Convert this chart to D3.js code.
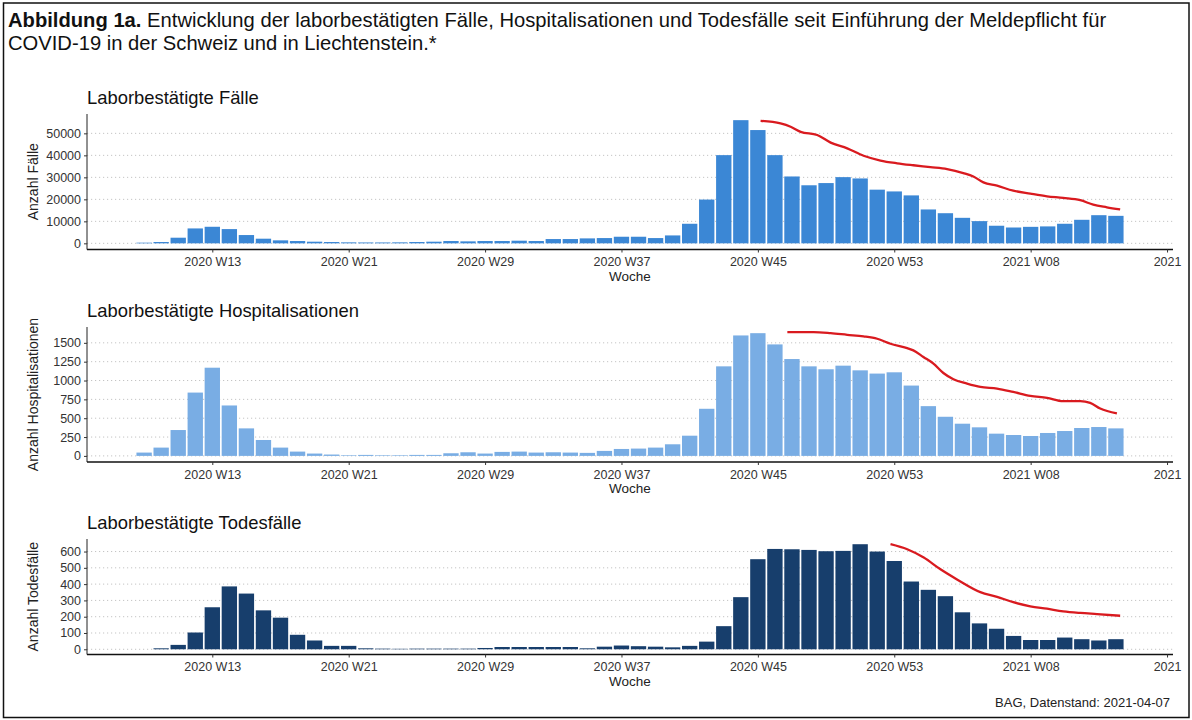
<!DOCTYPE html>
<html>
<head>
<meta charset="utf-8">
<script src="https://cdn.jsdelivr.net/npm/d3@7"></script>
<style>
  html, body { margin: 0; padding: 0; background: #fff; }
  svg { display: block; font-family: "Liberation Sans", Arial, sans-serif; }
</style>
</head>
<body>
<svg id="chart" width="1192" height="720"></svg>
<script>
// ---------- DATA ----------
// Week index: 2020 W09 = 9 ... 2020 W53 = 53, 2021 W01 = 54 ... 2021 W13 = 66
const weeks = [
  "2020 W09","2020 W10","2020 W11","2020 W12","2020 W13","2020 W14","2020 W15","2020 W16","2020 W17","2020 W18",
  "2020 W19","2020 W20","2020 W21","2020 W22","2020 W23","2020 W24","2020 W25","2020 W26","2020 W27","2020 W28",
  "2020 W29","2020 W30","2020 W31","2020 W32","2020 W33","2020 W34","2020 W35","2020 W36","2020 W37","2020 W38",
  "2020 W39","2020 W40","2020 W41","2020 W42","2020 W43","2020 W44","2020 W45","2020 W46","2020 W47","2020 W48",
  "2020 W49","2020 W50","2020 W51","2020 W52","2020 W53","2021 W01","2021 W02","2021 W03","2021 W04","2021 W05",
  "2021 W06","2021 W07","2021 W08","2021 W09","2021 W10","2021 W11","2021 W12","2021 W13"
];
const weekIndex = [
  9,10,11,12,13,14,15,16,17,18,19,20,21,22,23,24,25,26,27,28,29,30,31,32,33,34,35,36,37,38,
  39,40,41,42,43,44,45,46,47,48,49,50,51,52,53,54,55,56,57,58,59,60,61,62,63,64,65,66
];

const cases = [
  300,600,2560,6780,7530,6480,3770,2110,1360,1050,
  750,600,450,400,400,450,600,750,1050,900,
  1050,1050,1200,1050,1950,1950,2250,2400,3000,3000,
  2400,3600,8900,19900,40100,56000,51500,40100,30400,26400,
  27400,30100,29500,24400,23600,21800,15400,13700,11600,10100,
  8000,7200,7500,7700,8900,10700,12800,12500
];
const hosp = [
  44,110,343,840,1170,669,365,211,110,57,
  31,18,8,13,8,8,13,13,35,48,
  31,53,57,44,48,44,40,66,92,97,
  110,154,268,625,1188,1598,1628,1479,1285,1188,
  1149,1197,1135,1092,1109,933,660,519,427,379,
  295,277,264,304,330,370,383,365
];
const deaths = [
  0,6,27,103,258,386,342,239,194,89,
  54,21,21,6,4,3,4,4,4,4,
  8,14,14,14,14,14,6,16,23,19,
  16,12,21,47,142,320,553,616,614,610,
  602,604,645,600,542,416,365,326,227,159,
  126,82,57,57,72,62,54,62
];

// red lines (position in week index, value)
const casesLineX = [45.16,46.33,46.92,47.51,48.48,49.27,50.24,51.2,52.19,53.17,54.12,55.12,56.1,57.05,57.64,58.23,59.03,59.98,60.98,61.96,62.91,63.91,64.67,65.47,66.25];
const casesLineY = [55700,54500,53000,50700,49250,45800,43200,39800,37650,36400,35500,34650,33750,31950,30400,27700,26200,23950,22600,21400,20650,19600,17600,16400,15400];
const hospLineX = [46.73,48.27,49.27,50.24,51.2,52.0,52.78,53.76,54.12,54.71,55.3,55.88,56.47,57.27,58.05,59.03,59.98,60.98,61.96,62.91,63.91,64.49,65.08,66.06];
const hospLineY = [1642,1642,1628,1606,1585,1554,1488,1430,1400,1312,1224,1100,1017,959,915,893,849,797,770,726,726,704,629,563];
const deathsLineX = [52.78,53.76,54.73,55.71,56.68,58.05,59.03,59.98,60.98,61.96,62.91,63.91,64.89,66.25];
const deathsLineY = [645,614,563,491,429,351,322,289,264,249,233,223,216,206];

// x axis ticks
const xTickPos = [13,21,29,37,45,53,61,69];
const xTickLabels = ["2020 W13","2020 W21","2020 W29","2020 W37","2020 W45","2020 W53","2021 W08","2021"];

// y axis ticks
const casesTicks = [0,10000,20000,30000,40000,50000];
const hospTicks = [0,250,500,750,1000,1250,1500];
const deathsTicks = [0,100,200,300,400,500,600];

// text
const titleBold = "Abbildung 1a.";
const titleRest1 = " Entwicklung der laborbestätigten Fälle, Hospitalisationen und Todesfälle seit Einführung der Meldepflicht für";
const titleLine2 = "COVID-19 in der Schweiz und in Liechtenstein.*";
const caption = "BAG, Datenstand: 2021-04-07";

// ---------- DRAW ----------
const svg = d3.select("#chart");
svg.append("rect").attr("x",0).attr("y",0).attr("width",1192).attr("height",720).attr("fill","#fff");
// frame
svg.append("rect").attr("x",3.5).attr("y",3).attr("width",1185.5).attr("height",714.5)
  .attr("fill","none").attr("stroke","#111").attr("stroke-width",1.5);

const t1 = svg.append("text").attr("x",8).attr("y",27).attr("font-size",20.2).attr("fill","#111");
t1.append("tspan").attr("font-weight","bold").text(titleBold);
t1.append("tspan").text(titleRest1);
svg.append("text").attr("x",8).attr("y",50).attr("font-size",20.2).attr("fill","#111").text(titleLine2);

const x = d3.scaleLinear().domain([5.65, 69.35]).range([87, 1173]);
const barW = (x(1) - x(0)) * 0.9;

const panels = [
  {title:"Laborbestätigte Fälle", ylab:"Anzahl Fälle", values:cases, ticks:casesTicks,
   lx:casesLineX, ly:casesLineY, color:"#3b87d5", domain:[-2800,58800], top:114, bottom:249.5},
  {title:"Laborbestätigte Hospitalisationen", ylab:"Anzahl Hospitalisationen", values:hosp, ticks:hospTicks,
   lx:hospLineX, ly:hospLineY, color:"#79ade4", domain:[-81,1710], top:327, bottom:462},
  {title:"Laborbestätigte Todesfälle", ylab:"Anzahl Todesfälle", values:deaths, ticks:deathsTicks,
   lx:deathsLineX, ly:deathsLineY, color:"#173e6c", domain:[-32,677], top:539, bottom:654.5}
];

panels.forEach(p => {
  const y = d3.scaleLinear().domain(p.domain).range([p.bottom, p.top]);
  const g = svg.append("g");

  // grid
  g.selectAll(".grid").data(p.ticks).enter().append("line")
    .attr("x1", x.range()[0]).attr("x2", x.range()[1])
    .attr("y1", d => y(d)).attr("y2", d => y(d))
    .attr("stroke","#c4c4c4").attr("stroke-width",1).attr("stroke-dasharray","1.2,2.8");

  // bars
  g.selectAll(".bar").data(p.values).enter().append("rect")
    .attr("x", (d,i) => x(weekIndex[i]) - barW/2)
    .attr("width", barW)
    .attr("y", d => y(Math.max(d,0)))
    .attr("height", d => Math.max(0, y(0) - y(d)))
    .attr("fill", p.color);

  // red line
  const pts = p.lx.map((v,i) => [v, p.ly[i]]);
  g.append("path").datum(pts)
    .attr("d", d3.line().x(d => x(d[0])).y(d => y(d[1])).curve(d3.curveMonotoneX))
    .attr("fill","none").attr("stroke","#d91a1f").attr("stroke-width",2.3).attr("stroke-linejoin","round");

  // y axis
  const yAxis = d3.axisLeft(y).tickValues(p.ticks).tickSize(3).tickPadding(3).tickFormat(d3.format("d"));
  const ya = g.append("g").attr("transform", `translate(${x.range()[0]},0)`).call(yAxis);
  ya.select(".domain").attr("stroke","#222").attr("stroke-width",1).attr("d", `M-0,${p.top}V${p.bottom}`);
  ya.selectAll(".tick line").attr("stroke","#333");
  ya.selectAll(".tick text").attr("font-size",12.5).attr("fill","#333").attr("font-family","Liberation Sans, Arial, sans-serif");

  // x axis
  const xAxis = d3.axisBottom(x).tickValues(xTickPos).tickSize(3).tickPadding(5)
    .tickFormat((d,i) => xTickLabels[i]);
  const xa = g.append("g").attr("transform", `translate(0,${p.bottom})`).call(xAxis);
  xa.select(".domain").attr("stroke","#111").attr("stroke-width",1.5).attr("d", `M${x.range()[0]},0H${x.range()[1]}`);
  xa.selectAll(".tick line").attr("stroke","#333");
  xa.selectAll(".tick text").attr("font-size",12.5).attr("fill","#333").attr("font-family","Liberation Sans, Arial, sans-serif");

  // x title
  g.append("text").attr("x", (x.range()[0]+x.range()[1])/2).attr("y", p.bottom + 31)
    .attr("text-anchor","middle").attr("font-size",13.5).attr("fill","#222").text("Woche");

  // y title
  g.append("text").attr("transform", `translate(38,${(p.top+p.bottom)/2}) rotate(-90)`)
    .attr("text-anchor","middle").attr("font-size",14).attr("fill","#222").text(p.ylab);

  // panel title
  g.append("text").attr("x", 87).attr("y", p.top - 10.5)
    .attr("font-size",18.4).attr("fill","#111").text(p.title);
});

svg.append("text").attr("x",1170).attr("y",707).attr("text-anchor","end")
  .attr("font-size",13).attr("fill","#222").text(caption);
</script>
</body>
</html>
